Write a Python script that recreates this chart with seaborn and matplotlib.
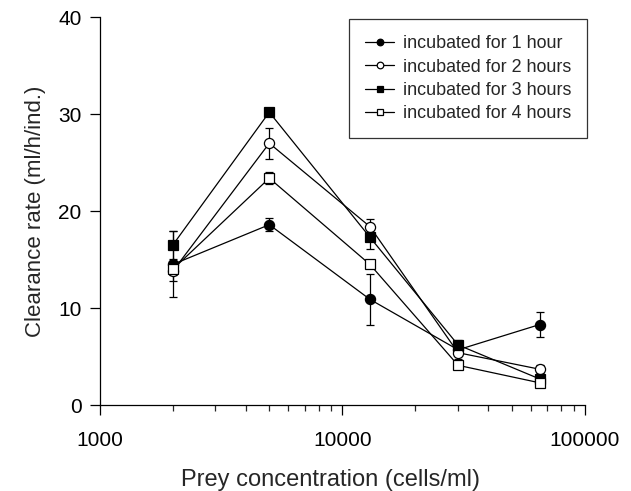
import numpy as np
import pandas as pd
import matplotlib
matplotlib.use("Agg")
import matplotlib.pyplot as plt
import seaborn as sns
from matplotlib.ticker import LogLocator, NullFormatter

prey = [2000, 5000, 13000, 30000, 65000]

labels = ["incubated for 1 hour", "incubated for 2 hours",
          "incubated for 3 hours", "incubated for 4 hours"]

rate_1h = [14.5, 18.6, 10.9, 5.7, 8.3]
rate_2h = [13.8, 27.0, 18.4, 5.4, 3.7]
rate_3h = [16.5, 30.2, 17.3, 6.2, 2.7]
rate_4h = [14.0, 23.4, 14.5, 4.1, 2.3]

err_1h = [3.4, 0.7, 2.6, 0.5, 1.3]
err_2h = [1.0, 1.6, 0.8, 0.6, 0.4]
err_3h = [1.4, 0.3, 1.2, 0.5, 0.4]
err_4h = [0.6, 0.6, 0.3, 0.3, 0.3]

rates = [rate_1h, rate_2h, rate_3h, rate_4h]
errs = [err_1h, err_2h, err_3h, err_4h]
markers = ["o", "o", "s", "s"]
faces = ["black", "white", "black", "white"]

sns.set_style("ticks")
plt.rcParams["font.family"] = ["Liberation Sans", "DejaVu Sans"]

fig, ax = plt.subplots(figsize=(6.31, 4.91), dpi=100)
fig.subplots_adjust(left=0.158, right=0.927, bottom=0.175, top=0.965)

for lab, r, e, m, fc in zip(labels, rates, errs, markers, faces):
    df = pd.DataFrame({"prey": prey, "rate": r})
    ax.errorbar(prey, r, yerr=e, fmt="none", ecolor="black", elinewidth=0.9,
                capsize=3.2, capthick=0.9, zorder=2)
    sns.lineplot(data=df, x="prey", y="rate", ax=ax, color="black", lw=0.9,
                 marker=m, markersize=7.3, markerfacecolor=fc,
                 markeredgecolor="black", markeredgewidth=0.9, label=lab,
                 zorder=3)

ax.set_xscale("log")
ax.set_xlim(1000, 100000)
ax.set_ylim(0, 40)
ax.set_yticks([0, 10, 20, 30, 40])
ax.set_xticks([1000, 10000, 100000])
ax.set_xticklabels(["1000", "10000", "100000"])
ax.xaxis.set_minor_locator(LogLocator(base=10, subs=np.arange(2, 10)))
ax.xaxis.set_minor_formatter(NullFormatter())
ax.tick_params(axis="both", which="major", direction="out", length=7,
               width=0.9, labelsize=15, colors="black")
ax.tick_params(axis="y", which="major", pad=6)
ax.tick_params(axis="x", which="major", pad=12)
ax.tick_params(axis="x", which="minor", direction="out", length=4, width=0.9)

for side in ["top", "right"]:
    ax.spines[side].set_visible(False)
for side in ["left", "bottom"]:
    ax.spines[side].set_linewidth(0.9)
    ax.spines[side].set_color("black")

ax.set_xlabel("Prey concentration (cells/ml)", fontsize=17, labelpad=13, x=0.476)
ax.set_ylabel("Clearance rate (ml/h/ind.)", fontsize=16, labelpad=9)

leg = ax.legend(loc="upper right", bbox_to_anchor=(1.005, 0.995), fontsize=12.9,
                frameon=True, fancybox=False, edgecolor="black",
                handlelength=1.6, handletextpad=0.5, markerscale=0.65,
                borderpad=0.9, labelspacing=0.35, borderaxespad=0.0)
leg.get_frame().set_linewidth(0.9)

fig.savefig("out.png", dpi=100)
